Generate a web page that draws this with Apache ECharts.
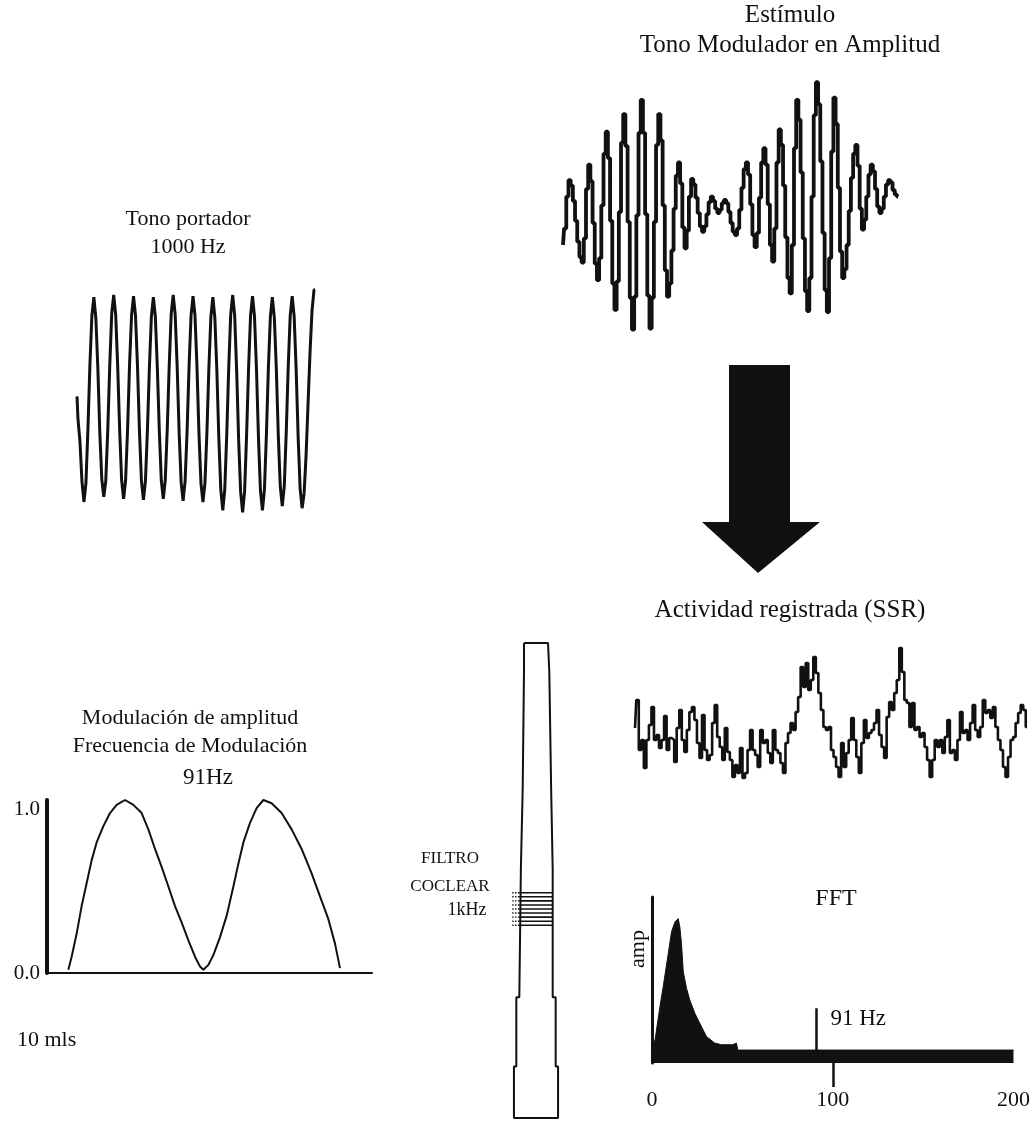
<!DOCTYPE html>
<html>
<head>
<meta charset="utf-8">
<script src="https://cdn.jsdelivr.net/npm/echarts@6/dist/echarts.min.js"></script>
<style>
  html, body { margin: 0; padding: 0; background: #fff; }
  #chart { width: 1033px; height: 1127px; }
</style>
</head>
<body>
<div id="chart"></div>
<script>
// tono portador 1000 Hz, una muestra cada 0.1 ms
var carrierStep = 0.1
var carrierValues = [
  0.02, -0.20, -0.42, -0.80, -1.00, -0.82, -0.30, 0.32, 0.80, 0.98,
  0.78, 0.30, -0.33, -0.78, -0.95, -0.80, -0.31, 0.31, 0.82, 1.00,
  0.81, 0.32, -0.30, -0.79, -0.97, -0.79, -0.30, 0.33, 0.80, 0.99,
  0.80, 0.31, -0.32, -0.80, -0.98, -0.80, -0.31, 0.30, 0.79, 0.98,
  0.79, 0.30, -0.31, -0.79, -0.97, -0.79, -0.30, 0.32, 0.82, 1.00,
  0.81, 0.31, -0.33, -0.81, -0.99, -0.80, -0.32, 0.31, 0.80, 0.99,
  0.80, 0.30, -0.34, -0.82, -1.00, -0.82, -0.33, 0.30, 0.79, 0.98,
  0.78, 0.28, -0.38, -0.88, -1.08, -0.88, -0.35, 0.30, 0.81, 1.00,
  0.80, 0.27, -0.40, -0.90, -1.10, -0.90, -0.36, 0.29, 0.80, 0.99,
  0.79, 0.28, -0.38, -0.89, -1.08, -0.88, -0.35, 0.30, 0.79, 0.98,
  0.78, 0.29, -0.36, -0.85, -1.04, -0.85, -0.33, 0.31, 0.80, 0.99,
  0.79, 0.28, -0.37, -0.87, -1.06, -0.92, -0.55, -0.05, 0.45, 0.85,
  1.05
]

// estímulo modulado en amplitud, una muestra cada 0.125 ms
var amStep = 0.125
var amValues = [
  -0.30, -0.15, 0.14, 0.29, 0.24, 0.10, -0.08, -0.27, -0.41, -0.46,
  -0.24, 0.21, 0.43, 0.28, -0.10, -0.47, -0.62, -0.42, 0.06, 0.53,
  0.73, 0.49, -0.08, -0.65, -0.89, -0.63, 0.00, 0.63, 0.89, 0.60,
  -0.09, -0.78, -1.07, -0.77, -0.03, 0.72, 1.02, 0.72, -0.02, -0.76,
  -1.06, -0.78, -0.09, 0.61, 0.89, 0.65, 0.06, -0.53, -0.77, -0.65,
  -0.35, 0.03, 0.33, 0.45, 0.26, -0.14, -0.33, -0.17, 0.14, 0.30,
  0.25, 0.13, -0.01, -0.13, -0.18, -0.13, -0.02, 0.09, 0.14, 0.10,
  0.03, -0.01, 0.02, 0.08, 0.11, 0.08, 0.00, -0.10, -0.18, -0.21,
  -0.15, 0.02, 0.22, 0.39, 0.45, 0.34, 0.07, -0.21, -0.32, -0.19,
  0.13, 0.45, 0.58, 0.43, 0.07, -0.30, -0.45, -0.15, 0.45, 0.75,
  0.61, 0.24, -0.23, -0.60, -0.74, -0.30, 0.58, 1.02, 0.84, 0.36,
  -0.24, -0.72, -0.90, -0.60, 0.14, 0.88, 1.18, 0.98, 0.46, -0.19,
  -0.71, -0.91, -0.42, 0.55, 1.04, 0.80, 0.22, -0.36, -0.60, -0.52,
  -0.30, 0.01, 0.31, 0.53, 0.61, 0.42, 0.03, -0.16, -0.07, 0.14,
  0.34, 0.43, 0.37, 0.21, 0.05, -0.01, 0.03, 0.14, 0.25, 0.29,
  0.27, 0.20, 0.16, 0.14
]

// envolvente de modulación (ms, amplitud)
var modTime = [1.71, 1.97, 2.37, 2.77, 3.17, 3.57, 3.97, 4.51, 5.04, 5.57, 6.24, 6.91, 7.57, 8.11,
  8.64, 9.17, 9.71, 10.24, 10.77, 11.31, 11.84, 12.24, 12.51, 12.91, 13.31, 13.84, 14.37, 14.91,
  15.31, 15.71, 16.24, 16.77, 17.31, 17.97, 18.77, 19.57, 20.37, 21.17, 21.84, 22.51, 23.04, 23.44]
var modAmp = [0.02, 0.10, 0.24, 0.41, 0.55, 0.69, 0.80, 0.90, 0.98, 1.03, 1.06, 1.03, 0.98, 0.88,
  0.76, 0.65, 0.53, 0.41, 0.31, 0.20, 0.10, 0.04, 0.02, 0.05, 0.11, 0.22, 0.35, 0.53,
  0.67, 0.80, 0.92, 1.01, 1.06, 1.04, 0.98, 0.88, 0.76, 0.61, 0.47, 0.33, 0.18, 0.03]
var modTicks = [0, 1]

// actividad registrada (SSR)
var ssrValues = [
  2.2, 5.0, 0.0, 1.0, -1.8, 1.0, 2.5, 4.3, 1.0, 1.5,
  0.2, 1.0, 3.4, 0.0, 1.2, 1.0, -1.2, 2.2, 4.0, 1.0,
  -0.2, 2.0, 3.8, 4.3, 3.0, 0.7, -0.8, 3.5, 0.0, -1.0,
  -0.5, 2.7, 4.5, 1.3, 0.3, -1.0, 2.2, -0.2, -1.0, -2.7,
  -1.5, -2.3, 0.2, -2.8, -2.3, 0.0, 2.0, 0.0, -0.5, -1.7,
  2.0, 0.7, 1.0, -0.3, -1.3, 2.0, 0.0, -0.3, -1.3, -2.3,
  0.7, 1.7, 2.7, 2.0, 3.8, 5.3, 8.3, 6.3, 8.7, 6.0,
  7.0, 9.3, 7.7, 5.7, 4.0, 2.3, 2.0, 2.3, 0.0, -0.7,
  -1.7, -2.7, 0.7, -1.7, -0.3, 1.0, 3.2, 1.0, -0.7, -2.3,
  0.7, 3.0, 1.2, 1.7, 2.0, 2.7, 4.0, 1.5, 0.3, -0.8,
  3.3, 4.8, 4.0, 5.7, 7.0, 10.2, 7.8, 5.0, 4.7, 2.3,
  4.7, 2.0, 2.3, 1.3, 1.7, 0.3, -1.0, -2.7, -1.0, 1.0,
  0.3, 1.0, -0.3, 1.3, 3.0, -0.3, 0.0, -1.0, 1.0, 3.8,
  1.7, 2.0, 1.0, 2.7, 4.5, 2.0, 1.3, 2.3, 5.0, 3.7,
  4.0, 3.2, 4.3, 2.3, 1.0, 0.0, -1.7, -2.7, -0.7, 1.0,
  1.3, 2.7, 3.7, 4.5, 4.0, 2.3
]

// espectro FFT (Hz, amplitud relativa)
var fftFreq = [0, 1.7, 4.4, 6.2, 9.0, 10.8, 12.7, 14.5, 15.4, 16.3, 17.3, 19.1, 20.9, 23.7,
  26.4, 30.1, 34.7, 38.4, 44.8, 46.7, 47.5, 200]
var fftAmp = [0.078, 0.14, 0.34, 0.46, 0.66, 0.79, 0.85, 0.87, 0.82, 0.72, 0.55, 0.45, 0.38, 0.30,
  0.24, 0.16, 0.12, 0.11, 0.11, 0.12, 0.078, 0.078]
var fftMarkFreq = [91, 91]
var fftMarkAmp = [0.078, 0.33]
var fftLabels = [0, 100, 200]
var fftTicks = [100]

// filtro coclear: límites de cada tramo (mm) y su ancho (mm)
var filterPos = [0, 2.1, 10.7, 16.7, 26.1, 31.2, 35.0]
var filterWidth = [1.77, 1.96, 2.23, 2.46, 2.90, 3.25]
var hatchPos = [18.4, 18.7, 19.0, 19.3, 19.6, 19.9, 20.2, 20.5, 20.8]

var serif = '"Liberation Serif", "Times New Roman", serif'
var black = '#111'

function sampled(values, step) {
  return values.map(function (v, i) { return [i * step, v] })
}
function pairs(xs, ys) {
  return xs.map(function (x, i) { return [x, ys[i]] })
}
function filterOutline() {
  var pts = []
  for (var i = 0; i < filterWidth.length; i++) {
    pts.push([-filterWidth[i] / 2, filterPos[i]], [-filterWidth[i] / 2, filterPos[i + 1]])
  }
  for (var j = filterWidth.length - 1; j >= 0; j--) {
    pts.push([filterWidth[j] / 2, filterPos[j + 1]], [filterWidth[j] / 2, filterPos[j]])
  }
  pts.push(pts[0])
  return pts
}
function wave(data, xi, width, step) {
  return {
    type: 'line',
    xAxisIndex: xi,
    yAxisIndex: xi,
    data: data,
    step: step,
    symbol: 'none',
    silent: true,
    lineStyle: { color: black, width: width },
  }
}
function hidden(gi, min, max, inverse) {
  return { type: 'value', gridIndex: gi, min: min, max: max, inverse: !!inverse, show: false }
}
function title(text, left, top, size, lh, align) {
  return {
    text: text,
    left: left,
    top: top,
    textAlign: align || 'center',
    padding: 0,
    textStyle: { fontFamily: serif, fontWeight: 'normal', fontSize: size, lineHeight: lh, color: black },
  }
}

var chart = echarts.init(document.getElementById('chart'))

var wallHalf = filterWidth[3] / 2
var hatchSeries = []
hatchPos.forEach(function (p) {
  hatchSeries.push(wave([[-wallHalf, p], [wallHalf, p]], 5, 1.6))
  var dots = wave([[-1.75, p], [-wallHalf, p]], 5, 1.4)
  dots.lineStyle.type = 'dotted'
  hatchSeries.push(dots)
})

var spectrum = wave(pairs(fftFreq, fftAmp), 4, 1)
spectrum.areaStyle = { color: black, opacity: 1 }

var marker = wave(pairs(fftMarkFreq, fftMarkAmp), 4, 2.5)
marker.endLabel = {
  show: true,
  formatter: '91 Hz',
  fontFamily: serif,
  fontSize: 23,
  color: black,
  offset: [6, 11],
}

var option = {
  animation: false,
  backgroundColor: '#fff',
  title: [
    title('Estímulo\nTono Modulador en Amplitud', 790, 0, 25, 30),
    title('Tono portador\n1000 Hz', 188, 205, 22, 28),
    title('Actividad registrada (SSR)', 790, 596, 25, 28),
    title('Modulación de amplitud\nFrecuencia de Modulación', 190, 704, 22, 28),
    title('91Hz', 208, 764, 23, 28),
    title('FILTRO\nCOCLEAR', 450, 845, 17, 28),
    title('1kHz', 467, 898, 18, 24),
    title('FFT', 836, 885, 24, 28),
    title('10 mls', 17, 1026, 22, 28, 'left'),
  ],
  grid: [
    { left: 77, top: 279.5, width: 238, height: 238 },
    { left: 563, top: 80, width: 335, height: 264 },
    { left: 47, top: 800, width: 325, height: 173 },
    { left: 635, top: 640, width: 392, height: 140 },
    { left: 652, top: 897, width: 363, height: 166 },
    { left: 488.5, top: 643, width: 95, height: 475 },
  ],
  xAxis: [
    hidden(0, 0, 12),
    hidden(1, 0, 19.125),
    {
      type: 'value', gridIndex: 2, min: 0, max: 26,
      axisLine: { show: true, lineStyle: { color: black, width: 2 } },
      axisTick: { show: false }, axisLabel: { show: false }, splitLine: { show: false },
    },
    hidden(3, 0, ssrValues.length - 1),
    {
      type: 'value', gridIndex: 4, min: 0, max: 200,
      axisLine: { show: false },
      axisTick: { show: true, customValues: fftTicks, length: 24, lineStyle: { color: black, width: 2.5 } },
      axisLabel: { customValues: fftLabels, margin: 26, fontFamily: serif, fontSize: 22, color: black },
      splitLine: { show: false },
    },
    hidden(5, -3.5, 3.5),
  ],
  yAxis: [
    hidden(0, -1.15, 1.15),
    hidden(1, -1.2, 1.2),
    {
      type: 'value', gridIndex: 2, min: 0, max: 1.06,
      axisLine: { show: true, lineStyle: { color: black, width: 4 } },
      axisTick: { show: false },
      axisLabel: {
        customValues: modTicks, margin: 7, fontFamily: serif, fontSize: 21, color: black,
        formatter: function (v) { return v.toFixed(1) },
      },
      splitLine: { show: false },
    },
    hidden(3, -3, 11),
    {
      type: 'value', gridIndex: 4, min: 0, max: 1,
      axisLine: { show: true, lineStyle: { color: black, width: 3 } },
      axisTick: { show: false }, axisLabel: { show: false }, splitLine: { show: false },
    },
    hidden(5, 0, 35, true),
  ],
  graphic: [
    {
      // flecha
      type: 'polygon',
      shape: { points: [[729, 365], [790, 365], [790, 522], [820, 522], [758, 573], [702, 522], [729, 522]] },
      style: { fill: black },
      silent: true,
    },
    {
      type: 'text',
      x: 638,
      y: 949,
      rotation: Math.PI / 2,
      style: {
        text: 'amp', font: '22px ' + serif, fill: black,
        align: 'center', verticalAlign: 'middle', textAlign: 'center', textVerticalAlign: 'middle',
      },
    },
  ],
  series: [
    wave(sampled(carrierValues, carrierStep), 0, 3, 'middle'),
    wave(sampled(amValues, amStep), 1, 3.8, 'middle'),
    wave(pairs(modTime, modAmp), 2, 2),
    wave(sampled(ssrValues, 1), 3, 2.6, 'middle'),
    spectrum,
    marker,
    wave(filterOutline(), 5, 2),
  ].concat(hatchSeries),
}

chart.setOption(option)
</script>
</body>
</html>
